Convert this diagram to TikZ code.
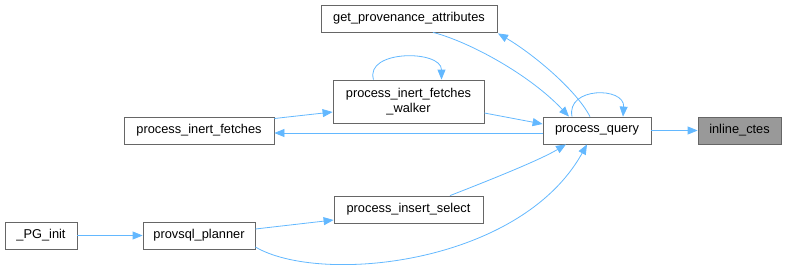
\documentclass[tikz,border=0pt]{standalone}
\usepackage{fontspec}
\setmainfont{Liberation Sans}
\usetikzlibrary{arrows.meta}
\definecolor{edgeblue}{HTML}{63B8FF}
\definecolor{boxgray}{HTML}{666666}
\definecolor{hlfill}{HTML}{999999}
\tikzset{
  fn/.style={draw=boxgray, line width=0.8pt, fill=white, inner sep=0pt, minimum height=27pt,
    font=\fontsize{12.8}{15}\selectfont, align=center},
  hl/.style={fn, fill=hlfill},
  call/.style={draw=edgeblue, line width=0.8pt, -{Triangle[length=10pt,width=8pt]}}
}
\begin{document}
\begin{tikzpicture}[x=1pt,y=1pt]
\useasboundingbox (0,0) rectangle (787,-265);
\node[fn, minimum width=176pt] (gpa) at (409,-18.5) {get\_provenance\_attributes};
\node[fn, minimum width=151pt, minimum height=43pt] (walker) at (408.5,-101.5) {process\_inert\_fetches\\\_walker};
\node[fn, minimum width=150pt] (pif) at (199,-130.5) {process\_inert\_fetches};
\node[fn, minimum width=108pt] (pq) at (597,-130.5) {process\_query};
\node[hl, minimum width=83pt] (ic) at (739.5,-130.5) {inline\_ctes};
\node[fn, minimum width=149pt] (pis) at (408.5,-209.5) {process\_insert\_select};
\node[fn, minimum width=72pt] (pginit) at (41,-235.5) {\_PG\_init};
\node[fn, minimum width=112pt] (planner) at (199,-235.5) {provsql\_planner};

\draw[call] (pq.east) -- (ic.west);
\draw[call] ([xshift=-25pt]pq.north) .. controls +(-6,30) and +(2,30) .. ([xshift=26pt]pq.north);
\draw[call] ([xshift=24pt]gpa.south) .. controls (470,-42) and (530,-75) .. ([xshift=-28pt]pq.north);
\draw[call] ([xshift=-7pt]pq.north) .. controls (575,-88) and (530,-52) .. ([xshift=89pt,yshift=-1pt]gpa.south);
\draw[call] ([yshift=-11.5pt]walker.east) -- ([yshift=6.5pt]pq.west);
\draw[call] ([xshift=-35pt]walker.north) .. controls +(-9,30) and +(0,30) .. ([xshift=33pt]walker.north);
\draw[call] ([yshift=12pt]pif.east) -- ([yshift=-10.5pt]walker.west);
\draw[call] ([yshift=-2.5pt]pq.west) -- ([yshift=-2.5pt]pif.east);
\draw[call] ([xshift=41.5pt]pis.north) .. controls (490,-180) and (540,-160) .. ([xshift=-31pt]pq.south);
\draw[call] ([yshift=6.5pt]planner.east) -- ([yshift=-10.5pt]pis.west);
\draw[call] ([yshift=-11.5pt]planner.east) .. controls (320,-285) and (520,-265) .. ([xshift=-10pt]pq.south);
\draw[call] (pginit.east) -- (planner.west);
\end{tikzpicture}
\end{document}
